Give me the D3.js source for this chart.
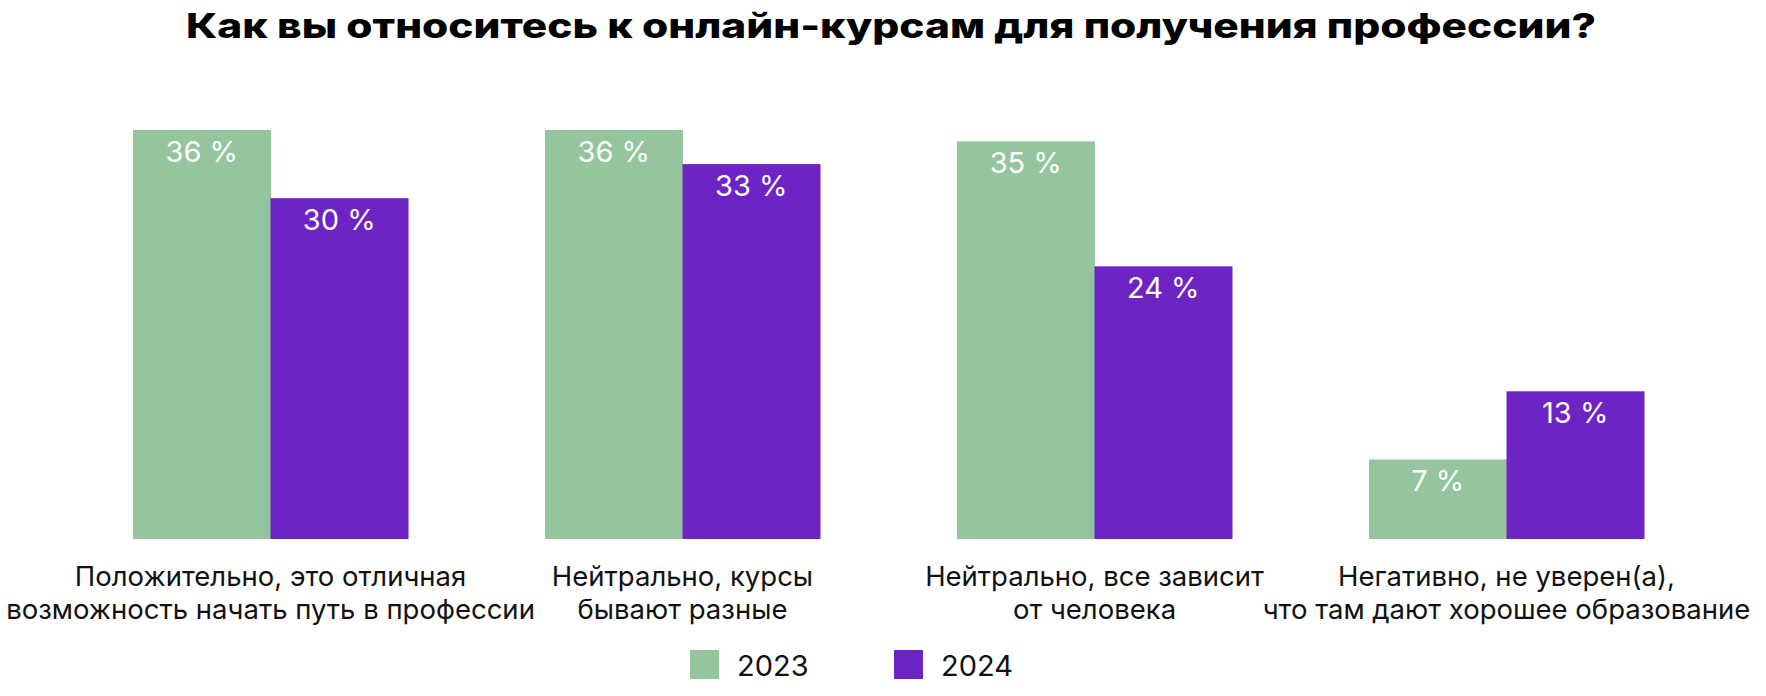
<!DOCTYPE html>
<html>
<head>
<meta charset="utf-8">
<script src="https://cdn.jsdelivr.net/npm/d3@7"></script>
<style>
  html, body { margin: 0; padding: 0; background: #fff; }
  svg { display: block; }
  text { font-family: Inter, "Noto Sans", sans-serif; }
</style>
</head>
<body>
<svg id="chart"></svg>
<script>
const title = "Как вы относитесь к онлайн-курсам для получения профессии?";

const categories = ["pos", "neutral1", "neutral2", "neg"];
const categoryLines = [
    ["Положительно, это отличная", "возможность начать путь в профессии"],
    ["Нейтрально, курсы", "бывают разные"],
    ["Нейтрально, все зависит", "от человека"],
    ["Негативно, не уверен(а),", "что там дают хорошее образование"]
];
const years = ["2023", "2024"];
const values2023 = [36, 36, 35, 7];
const values2024 = [30, 33, 24, 13];

const width = 1766;
const height = 696;
const colors = { "2023": "#94c59d", "2024": "#6e23c5" };

const svg = d3.select("#chart")
    .attr("width", width)
    .attr("height", height);

svg.append("rect").attr("width", width).attr("height", height).attr("fill", "#fff");

// title (the original face is much wider, so stretch it to the same length)
svg.append("text")
    .attr("x", 891)
    .attr("y", 38)
    .attr("text-anchor", "middle")
    .attr("font-size", 34)
    .attr("font-weight", 800)
    .attr("fill", "#000")
    .attr("textLength", 1410)
    .attr("lengthAdjust", "spacingAndGlyphs")
    .text(title);

const x = d3.scaleBand()
    .domain(categories)
    .range([133, 1644])
    .paddingInner(0.3325)
    .paddingOuter(0);

const xYear = d3.scaleBand()
    .domain(years)
    .range([0, x.bandwidth()]);

const y = d3.scaleLinear()
    .domain([0, 36])
    .range([539, 130]);

const rows = categories.map((c, i) => ({
    cat: c,
    lines: categoryLines[i],
    vals: [
        { year: "2023", value: values2023[i] },
        { year: "2024", value: values2024[i] }
    ]
}));

const group = svg.selectAll(".group")
    .data(rows)
    .enter().append("g")
    .attr("class", "group")
    .attr("transform", d => `translate(${x(d.cat)},0)`);

group.selectAll("rect")
    .data(d => d.vals)
    .enter().append("rect")
    .attr("x", d => xYear(d.year))
    .attr("y", d => y(d.value))
    .attr("width", xYear.bandwidth() + 0.5)
    .attr("height", d => y(0) - y(d.value))
    .attr("fill", d => colors[d.year]);

group.selectAll(".val")
    .data(d => d.vals)
    .enter().append("text")
    .attr("class", "val")
    .attr("x", d => xYear(d.year) + xYear.bandwidth() / 2)
    .attr("y", d => y(d.value) + 32)
    .attr("text-anchor", "middle")
    .attr("font-size", 29)
    .attr("font-weight", 400)
    .attr("fill", "#fff")
    .text(d => d.value + " %");

// category labels under the bars
const catLabel = group.append("text")
    .attr("class", "cat")
    .attr("text-anchor", "middle")
    .attr("font-size", 27.5)
    .attr("fill", "#111");

catLabel.selectAll("tspan")
    .data(d => d.lines)
    .enter().append("tspan")
    .attr("x", x.bandwidth() / 2)
    .attr("y", (d, i) => 586 + i * 33)
    .text(d => d);

// legend
const legendX = [690, 894];
const legend = svg.selectAll(".legend")
    .data(years)
    .enter().append("g")
    .attr("class", "legend")
    .attr("transform", (d, i) => `translate(${legendX[i]},650)`);

legend.append("rect")
    .attr("width", 29)
    .attr("height", 29)
    .attr("fill", d => colors[d]);

legend.append("text")
    .attr("x", 47)
    .attr("y", 26)
    .attr("font-size", 29)
    .attr("fill", "#111")
    .text(d => d);
</script>
</body>
</html>
